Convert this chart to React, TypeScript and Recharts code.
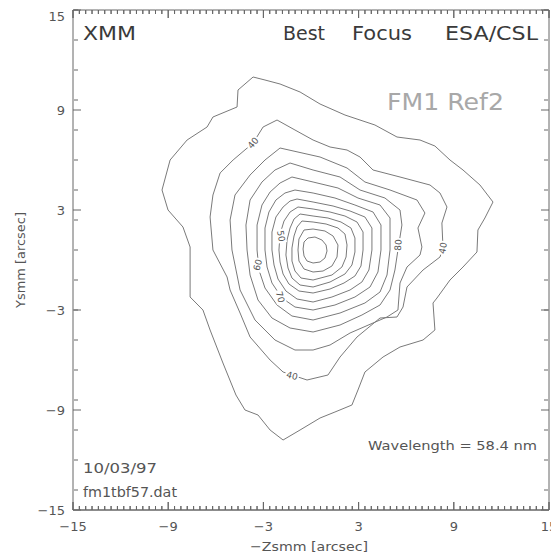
import React from "react"
import { ComposedChart, Line, Scatter, XAxis, YAxis } from "recharts"

// axis ticks (arcsec)
const majorTicks = [-15, -9, -3, 3, 9, 15]
const xMinorTicks = Array.from({ length: 76 }, (_, i) => +(-15 + i * 0.4).toFixed(2))
const yMinorTicks = Array.from({ length: 51 }, (_, i) => +(-15 + i * 0.6).toFixed(2))

// contour lines, outermost first, [-Zsmm, Ysmm] in arcsec
const contour1 = [
  [-3.65, 10.98], [-2.9, 10.8], [-1.95, 10.56], [-0.69, 10.08], [0.57, 9.36], [2.14, 8.7],
  [4.03, 8.1], [5.42, 7.38], [6.87, 7.2], [7.81, 6.84], [8.76, 6.0], [9.58, 5.4], [10.65, 4.5],
  [11.47, 3.48], [10.96, 2.52], [10.52, 1.8], [10.46, 0.48], [9.58, -0.42], [8.76, -1.2],
  [7.94, -2.28], [7.69, -2.58], [7.81, -4.2], [7.06, -4.8], [5.61, -5.22], [4.54, -5.82],
  [3.4, -6.72], [2.96, -7.8], [2.58, -8.7], [1.51, -9.12], [0.57, -9.48], [-0.69, -10.2],
  [-1.76, -10.8], [-2.58, -10.2], [-3.34, -9.3], [-4.16, -9.0], [-4.73, -8.1], [-5.55, -6.18],
  [-6.36, -4.2], [-6.81, -3.0], [-7.62, -2.22], [-7.62, 0.78], [-8.07, 1.98], [-9.01, 3.0],
  [-9.39, 4.2], [-8.88, 6.0], [-7.81, 7.2], [-6.55, 7.98], [-6.18, 8.58], [-4.66, 9.18], [-4.6, 10.2],
]
const contour2 = [
  [-2.14, 8.4], [-1.01, 7.8], [0.13, 7.2], [1.2, 6.78], [2.27, 6.6], [3.09, 6.18], [3.91, 5.4],
  [5.61, 4.98], [7.5, 4.5], [8.13, 4.02], [8.57, 3.18], [8.25, 2.22], [8.32, 0.72], [8.13, 0.18],
  [7.06, -0.6], [6.05, -1.62], [5.8, -2.82], [5.42, -3.42], [4.35, -3.48], [2.9, -4.62],
  [1.83, -5.82], [1.07, -6.9], [-0.25, -7.2], [-1.76, -6.72], [-2.58, -6.0], [-3.84, -4.62],
  [-4.47, -3.18], [-5.1, -1.8], [-5.29, -1.02], [-6.18, 0.6], [-6.36, 2.58], [-6.18, 3.9],
  [-5.73, 5.22], [-4.91, 6.0], [-3.65, 7.02], [-3.02, 7.98],
]
const contour3 = [
  [-1.95, 6.72], [0.57, 6.18], [2.27, 5.52], [3.4, 4.68], [4.98, 4.2], [6.68, 3.6], [7.18, 2.82],
  [6.74, 1.92], [6.99, 0.78], [6.87, 0.3], [6.05, -0.42], [5.61, -1.38], [5.48, -3.0], [4.79, -3.42],
  [3.91, -3.78], [2.46, -4.38], [1.2, -5.1], [0.13, -5.4], [-1.01, -5.4], [-2.27, -4.8],
  [-3.53, -3.6], [-4.47, -1.8], [-4.98, 0.6], [-5.1, 2.4], [-4.79, 3.9], [-3.84, 5.1], [-2.9, 6.0],
]
const contour4 = [
  [-1.32, 5.82], [0.13, 5.4], [1.83, 4.98], [3.09, 4.2], [4.66, 3.72], [5.61, 3.0], [5.73, 2.1],
  [5.48, 0.6], [5.29, -0.6], [4.98, -1.8], [4.35, -2.7], [3.21, -3.3], [1.83, -3.9], [0.13, -4.32],
  [-1.32, -4.08], [-2.46, -3.48], [-3.34, -2.4], [-3.84, -0.9], [-4.03, 0.6], [-4.1, 2.1],
  [-3.84, 3.6], [-3.09, 4.68], [-2.27, 5.4],
]
const contour5 = [
  [-1.2, 4.98], [0.13, 4.68], [1.7, 4.32], [2.96, 3.72], [4.35, 3.3], [4.98, 2.52], [4.98, 0.6],
  [4.79, -0.9], [4.35, -1.92], [3.4, -2.58], [1.83, -3.18], [0.13, -3.6], [-1.2, -3.36],
  [-2.14, -2.7], [-2.9, -1.68], [-3.28, -0.6], [-3.4, 0.6], [-3.4, 2.1], [-3.09, 3.3],
  [-2.58, 4.08], [-1.95, 4.62],
]
const contour6 = [
  [-1.01, 4.2], [0.13, 4.02], [1.51, 3.72], [2.77, 3.3], [3.91, 2.88], [4.41, 2.1], [4.41, 0.6],
  [4.22, -0.72], [3.72, -1.62], [2.77, -2.22], [1.51, -2.7], [0.13, -3.0], [-1.01, -2.82],
  [-1.83, -2.28], [-2.46, -1.38], [-2.77, -0.42], [-2.9, 0.6], [-2.9, 1.92], [-2.65, 2.88],
  [-2.21, 3.6], [-1.64, 4.02],
]
const contour7 = [
  [-0.88, 3.66], [0.13, 3.48], [1.39, 3.24], [2.46, 2.94], [3.4, 2.58], [3.84, 1.92], [3.84, 0.6],
  [3.65, -0.6], [3.21, -1.32], [2.46, -1.8], [1.32, -2.22], [0.13, -2.52], [-0.88, -2.34],
  [-1.58, -1.86], [-2.08, -1.14], [-2.33, -0.3], [-2.46, 0.6], [-2.46, 1.68], [-2.21, 2.58],
  [-1.76, 3.18], [-1.32, 3.54],
]
const contour8 = [
  [-0.82, 3.18], [0.13, 3.06], [1.2, 2.88], [2.14, 2.64], [2.9, 2.28], [3.28, 1.68], [3.28, 0.6],
  [3.15, -0.36], [2.77, -0.96], [2.08, -1.38], [1.2, -1.74], [0.13, -1.98], [-0.76, -1.86],
  [-1.39, -1.44], [-1.76, -0.84], [-1.95, -0.12], [-2.02, 0.6], [-1.95, 1.56], [-1.7, 2.34],
  [-1.32, 2.88],
]
const contour9 = [
  [-0.69, 2.76], [0.13, 2.64], [1.07, 2.52], [1.89, 2.28], [2.52, 1.92], [2.77, 1.32], [2.77, 0.48],
  [2.58, -0.3], [2.14, -0.84], [1.2, -1.32], [0.13, -1.62], [-0.69, -1.5], [-1.2, -1.08],
  [-1.45, -0.48], [-1.58, 0.3], [-1.51, 1.2], [-1.32, 1.92], [-1.07, 2.46],
]
const contour10 = [
  [-0.57, 2.34], [0.13, 2.28], [0.95, 2.16], [1.7, 1.92], [2.14, 1.56], [2.27, 0.9], [2.21, 0.18],
  [1.95, -0.42], [1.32, -0.9], [0.13, -1.2], [-0.63, -1.08], [-1.01, -0.66], [-1.2, -0.06],
  [-1.2, 0.72], [-1.07, 1.44], [-0.88, 1.98],
]
const contour11 = [
  [-0.44, 1.8], [0.13, 1.86], [0.88, 1.74], [1.39, 1.44], [1.7, 0.9], [1.64, 0.18], [1.32, -0.36],
  [0.76, -0.66], [0.13, -0.72], [-0.44, -0.54], [-0.76, -0.06], [-0.82, 0.6], [-0.76, 1.26],
]
const contour12 = [
  [-0.19, 1.32], [0.25, 1.38], [0.69, 1.2], [0.95, 0.9], [1.01, 0.54], [0.88, 0.12], [0.57, -0.12],
  [0.13, -0.18], [-0.25, -0.06], [-0.44, 0.24], [-0.5, 0.66], [-0.44, 1.08],
]
const contours = [
  contour1, contour2, contour3, contour4, contour5, contour6,
  contour7, contour8, contour9, contour10, contour11, contour12,
]

// contour level labels
const labelText = ["40", "40", "40", "60", "80", "50", "70"]
const labelX = [-3.65, -1.2, 8.32, -3.35, 5.5, -1.9, -1.95]
const labelY = [7.02, -6.95, 0.72, -0.3, 0.9, 1.44, -2.22]
const labelAngle = [-50, 15, -80, -75, -85, 80, 75]

const closed = (pairs: number[][]) => [...pairs, pairs[0]].map(([x, y]) => ({ x, y }))
const contourData = contours.map(closed)
const labelData = labelText.map((text, i) => ({ x: labelX[i], y: labelY[i], text, angle: labelAngle[i] }))

// top and bottom frame edges with their inward tick marks, walked as one path each
// (8 px major / 4 px minor, in y units of this 500 px / 30 arcsec plot)
const MAJOR_LEN = 0.48
const MINOR_LEN = 0.24
const framePath = (edge: number, dir: number) =>
  xMinorTicks.flatMap((x) => {
    const len = majorTicks.includes(x) ? MAJOR_LEN : MINOR_LEN
    return [{ x, y: edge }, { x, y: edge + dir * len }, { x, y: edge }]
  })
const bottomFrame = framePath(-15, 1)
const topFrame = framePath(15, -1)

const FONT = "DejaVu Sans"
const AXIS = "#666"
const DOMAIN = [-15, 15]
const MARGIN = { top: 2, right: 10, bottom: 0, left: 0 }
const AXIS_LINE = { stroke: AXIS }
const TICK_FONT = { fontSize: 13, fill: "#555", fontFamily: FONT }
const fmt = (v: number) => (v < 0 ? "\u2212" + Math.abs(v) : String(v))
const noLabel = () => <g />

const LevelLabel = (p: any) => (
  <g transform={`translate(${p.cx},${p.cy}) rotate(${p.payload.angle})`}>
    <rect x={-7} y={-5} width={14} height={10} fill="#fff" />
    <text textAnchor="middle" dominantBaseline="central" fontSize={9} fill="#555" fontFamily={FONT}>
      {p.payload.text}
    </text>
  </g>
)

export default function App() {
  return (
    <div style={{ position: "relative", width: 551, height: 550 }}>
      <ComposedChart width={551} height={550} margin={MARGIN}>
        <XAxis
          dataKey="x" type="number" domain={DOMAIN} ticks={majorTicks}
          height={48} tickLine={false} tickSize={0} tickMargin={12} tick={TICK_FONT}
          tickFormatter={fmt} axisLine={AXIS_LINE}
        />
        <YAxis
          dataKey="y" type="number" domain={DOMAIN} ticks={majorTicks}
          width={65} tickLine={false} tickSize={0} tickMargin={8} tick={TICK_FONT}
          tickFormatter={fmt} axisLine={AXIS_LINE}
        />
        {/* inward tick marks on the left and right sides */}
        <YAxis yAxisId="lMaj" orientation="left" mirror width={1} type="number" domain={DOMAIN} allowDataOverflow ticks={majorTicks} tickSize={8} tick={noLabel} tickLine={AXIS_LINE} axisLine={false} />
        <YAxis yAxisId="lMin" orientation="left" mirror width={1} type="number" domain={DOMAIN} allowDataOverflow ticks={yMinorTicks} tickSize={4} tick={noLabel} tickLine={AXIS_LINE} axisLine={false} />
        <YAxis yAxisId="rMaj" orientation="right" mirror width={1} type="number" domain={DOMAIN} allowDataOverflow ticks={majorTicks} tickSize={8} tick={noLabel} tickLine={AXIS_LINE} axisLine={AXIS_LINE} />
        <YAxis yAxisId="rMin" orientation="right" mirror width={1} type="number" domain={DOMAIN} allowDataOverflow ticks={yMinorTicks} tickSize={4} tick={noLabel} tickLine={AXIS_LINE} axisLine={false} />

        <Line data={bottomFrame} dataKey="y" type="linear" stroke={AXIS} strokeWidth={1} dot={false} activeDot={false} isAnimationActive={false} />
        <Line data={topFrame} dataKey="y" type="linear" stroke={AXIS} strokeWidth={1} dot={false} activeDot={false} isAnimationActive={false} />

        {contourData.map((d, i) => (
          <Line
            key={i} data={d} dataKey="y" type="linear" stroke="#7a7a7a" strokeWidth={1}
            dot={false} activeDot={false} isAnimationActive={false}
          />
        ))}
        <Scatter data={labelData} dataKey="y" shape={LevelLabel} isAnimationActive={false} />
      </ComposedChart>

      <svg width={551} height={550} style={{ position: "absolute", left: 0, top: 0, pointerEvents: "none" }} fontFamily={FONT}>
        <g fill="#3a3a3a" fontSize={20}>
          <text x={75} y={32} textLength={53} lengthAdjust="spacingAndGlyphs">XMM</text>
          <text x={275} y={32} textLength={42} lengthAdjust="spacingAndGlyphs">Best</text>
          <text x={344} y={32} textLength={60} lengthAdjust="spacingAndGlyphs">Focus</text>
          <text x={437} y={32} textLength={93} lengthAdjust="spacingAndGlyphs">ESA/CSL</text>
        </g>
        <text x={379} y={102} fontSize={23} fill="#a8a8a8" textLength={117} lengthAdjust="spacingAndGlyphs">FM1 Ref2</text>
        <g fill="#555">
          <text x={360} y={442} fontSize={13} textLength={169} lengthAdjust="spacingAndGlyphs">Wavelength = 58.4 nm</text>
          <text x={75} y={465} fontSize={14} textLength={74} lengthAdjust="spacingAndGlyphs">10/03/97</text>
          <text x={75} y={489} fontSize={14} textLength={94} lengthAdjust="spacingAndGlyphs">fm1tbf57.dat</text>
          <text x={242} y={543} fontSize={13} textLength={118} lengthAdjust="spacingAndGlyphs">{"\u2212Zsmm [arcsec]"}</text>
          <text x={0} y={0} fontSize={12} textAnchor="middle" transform="translate(17,252) rotate(-90)" textLength={96} lengthAdjust="spacingAndGlyphs">Ysmm [arcsec]</text>
        </g>
      </svg>
    </div>
  )
}
